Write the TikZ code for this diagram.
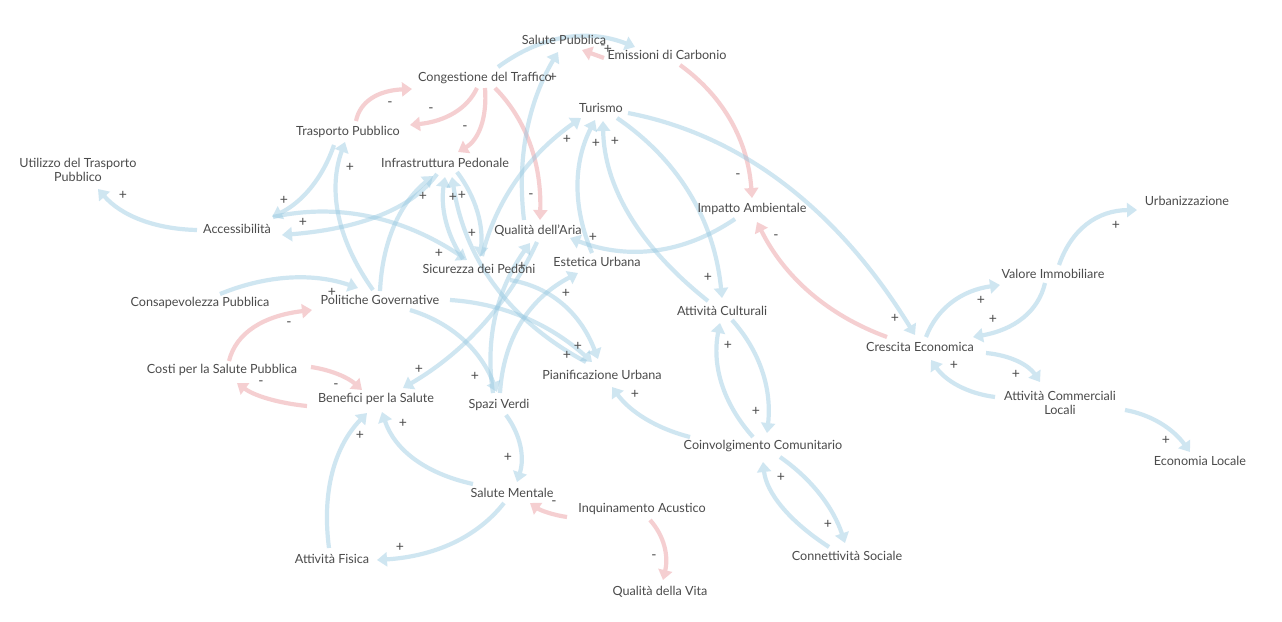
\documentclass[tikz,border=0pt]{standalone}
\usepackage{fontspec}
\setmainfont{Lato}
\usetikzlibrary{arrows.meta,calc,backgrounds}
\definecolor{bl}{RGB}{150,200,225}
\definecolor{rd}{RGB}{235,150,155}
\definecolor{tx}{RGB}{75,75,75}
\tikzset{
 var/.style={text=tx,font=\fontsize{12.6}{14}\selectfont,inner sep=2pt,align=center},
 sg/.style={text=tx,font=\fontsize{14}{14}\selectfont,inner sep=0pt},
 plink/.style={draw=bl,line width=4.2pt,-{Triangle[length=10pt,width=14pt]}},
 nlink/.style={draw=rd,line width=4.2pt,-{Triangle[length=10pt,width=14pt]}},
}
\newcommand\lnk[6]{%
 \begin{scope}[transparency group,opacity=0.45]
 \draw[#1] let \p1=($(#2)+(#3)$), \p2=($(#5)+(#6)$), \p3=(#4) in
   (\p1) .. controls ($(\p3)!-0.3333!(\p2)$) and ($(\p3)!-0.3333!(\p1)$) .. (\p2);
 \end{scope}}
\begin{document}
\begin{tikzpicture}[x=1pt,y=-1pt]
\useasboundingbox (0,0) rectangle (1282,621);
% variables
\node[var] (sp) at (564,40) {Salute Pubblica};
\node[var] (em) at (667,55) {Emissioni di Carbonio};
\node[var] (ct) at (485,78) {Congestione del Traffico};
\node[var] (tu) at (601,108) {Turismo};
\node[var] (tp) at (348,132) {Trasporto Pubblico};
\node[var] (ip) at (445,163) {Infrastruttura Pedonale};
\node[var] (ia) at (752,209) {Impatto Ambientale};
\node[var] (ut) at (78,169.5) {Utilizzo del Trasporto\\Pubblico};
\node[var] (ac) at (237,229) {Accessibilità};
\node[var] (cp) at (200,303) {Consapevolezza Pubblica};
\node[var] (pg) at (380,300) {Politiche Governative};
\node[var] (sd) at (479,269) {Sicurezza dei Pedoni};
\node[var] (qa) at (538,231) {Qualità dell'Aria};
\node[var] (eu) at (597,262) {Estetica Urbana};
\node[var] (pu) at (602,375) {Pianificazione Urbana};
\node[var] (sv) at (499,405) {Spazi Verdi};
\node[var] (cu) at (722,311) {Attività Culturali};
\node[var] (ce) at (920,347) {Crescita Economica};
\node[var] (vi) at (1053,274) {Valore Immobiliare};
\node[var] (ur) at (1187,201) {Urbanizzazione};
\node[var] (cl) at (1060,402.5) {Attività Commerciali\\Locali};
\node[var] (el) at (1200,461) {Economia Locale};
\node[var] (cs) at (222,370) {Costi per la Salute Pubblica};
\node[var] (bs) at (376,399) {Benefici per la Salute};
\node[var] (sm) at (512,493) {Salute Mentale};
\node[var] (af) at (332,559) {Attività Fisica};
\node[var] (cc) at (763,446) {Coinvolgimento Comunitario};
\node[var] (iq) at (642,509) {Inquinamento Acustico};
\node[var] (cn) at (847,556) {Connettività Sociale};
\node[var] (qv) at (660,592) {Qualità della Vita};
% links
\begin{scope}[on background layer]
\fill[white] (0,0) rectangle (1282,621);
\lnk{nlink}{tp}{8,-11}{373,98}{ct}{-73,11}
\lnk{nlink}{ct}{-8,10}{453,113}{tp}{62,-7}
\lnk{nlink}{ct}{0,10}{480,127}{ip}{13,-11}
\lnk{nlink}{ct}{10,10}{530,145}{qa}{2,-11}
\lnk{nlink}{em}{-63,3}{593,54}{sp}{18,10}
\lnk{nlink}{em}{13,10}{731,122}{ia}{0,-11}
\lnk{nlink}{ce}{-33,-10}{810,292}{ia}{5,13}
\lnk{nlink}{cs}{7,-9}{255,327}{pg}{-68,10}
\lnk{nlink}{cs}{89,-3}{339,375}{bs}{-14,-9}
\lnk{nlink}{bs}{-69,7}{267,398}{cs}{15,13}
\lnk{nlink}{iq}{-75,8}{547,512}{sm}{18,10}
\lnk{nlink}{iq}{8,11}{664,547}{qv}{3,-12}
\lnk{plink}{ct}{13,-11}{565,38}{em}{-32,-8}
\lnk{plink}{qa}{-14,-11}{527,132}{sp}{-6,12}
\lnk{plink}{sd}{3,-13}{517,180}{tu}{-20,10}
\lnk{plink}{eu}{-5,-9}{578,185}{tu}{-6,12}
\lnk{plink}{cu}{-14,-10}{630,215}{tu}{2,13}
\lnk{plink}{tu}{16,10}{690,195}{cu}{0,-13}
\lnk{plink}{tu}{27,5}{785,185}{ce}{-5,-12}
\lnk{plink}{ia}{-17,10}{655,250}{qa}{32,7}
\lnk{plink}{pg}{-7,-10}{339,215}{tp}{-3,10}
\lnk{plink}{tp}{-14,13}{310,188}{ac}{35,-12}
\lnk{plink}{ac}{-40,1}{140,219}{ut}{20,19.5}
\lnk{plink}{ip}{-8,11}{380,215}{ac}{45,6}
\lnk{plink}{ac}{36,-12}{370,217}{sd}{-12,-9}
\lnk{plink}{pg}{0,-9}{395,225}{ip}{-12,13}
\lnk{plink}{sd}{-16,-10}{446,220}{ip}{0,14}
\lnk{plink}{pu}{-16,-13}{495,285}{ip}{7,14}
\lnk{plink}{ip}{12,9}{477,212}{sd}{1,-12}
\lnk{plink}{pg}{70,0}{525,318}{pu}{-10,-13}
\lnk{plink}{sd}{31,11}{563,305}{pu}{-4,-16}
\lnk{plink}{pg}{30,10}{463,340}{sv}{-2,-13}
\lnk{plink}{sv}{1,-12}{522,322}{eu}{-19,11}
\lnk{plink}{sv}{-6,-12}{496,315}{qa}{-8,12}
\lnk{plink}{qa}{-1,11}{482,325}{bs}{27,-11}
\lnk{plink}{sv}{7,10}{520,447}{sm}{5,-11}
\lnk{plink}{sm}{-39,-9}{414,458}{bs}{6,13}
\lnk{plink}{sm}{-8,10}{452,543}{af}{45,1}
\lnk{plink}{af}{-3,-11}{333,472}{bs}{-9,14}
\lnk{plink}{cp}{20,-9}{290,278}{pg}{-22,-12}
\lnk{plink}{cc}{-10,-9}{722,383}{cu}{-2,12}
\lnk{plink}{cu}{10,9}{762,372}{cc}{4,-13}
\lnk{plink}{cc}{-73,-9}{645,418}{pu}{10,12}
\lnk{plink}{cc}{17,11}{820,495}{cn}{-2,-13}
\lnk{plink}{cn}{-18,-9}{782,506}{cc}{0,16}
\lnk{plink}{ce}{6,-10}{953,302}{vi}{-53,11}
\lnk{plink}{vi}{-8,9}{1022,318}{ce}{53,-10}
\lnk{plink}{vi}{6,-9}{1088,224}{ur}{-50,9}
\lnk{plink}{ce}{66,6}{1018,362}{cl}{-20,-20.5}
\lnk{plink}{cl}{-65,-5.5}{958,385}{ce}{11,13}
\lnk{plink}{cl}{65,7.5}{1161,424}{el}{-10,-9}
\end{scope}
% polarity labels
\node[sg] (s1) at (390,104) {-};
\node[sg] (s2) at (431,110) {-};
\node[sg] (s3) at (465,128) {-};
\node[sg] (s4) at (531,196) {-};
\node[sg] (s5) at (603,47) {-};
\node[sg] (s6) at (738,176) {-};
\node[sg] (s7) at (776,237) {-};
\node[sg] (s8) at (289,324) {-};
\node[sg] (s9) at (336,386) {-};
\node[sg] (s10) at (261,383) {-};
\node[sg] (s11) at (554,503) {-};
\node[sg] (s12) at (654,557) {-};
\node[sg] (s13) at (608,49) {+};
\node[sg] (s14) at (553,77) {+};
\node[sg] (s15) at (567,139) {+};
\node[sg] (s16) at (596,143) {+};
\node[sg] (s17) at (615,141) {+};
\node[sg] (s18) at (708,277) {+};
\node[sg] (s19) at (895,318) {+};
\node[sg] (s20) at (593,237) {+};
\node[sg] (s21) at (350,167) {+};
\node[sg] (s22) at (284,200) {+};
\node[sg] (s23) at (123,195) {+};
\node[sg] (s24) at (303,222) {+};
\node[sg] (s25) at (439,253) {+};
\node[sg] (s26) at (423,196) {+};
\node[sg] (s27) at (453,197) {+};
\node[sg] (s28) at (462,195) {+};
\node[sg] (s29) at (472,233) {+};
\node[sg] (s30) at (567,355) {+};
\node[sg] (s31) at (578,346) {+};
\node[sg] (s32) at (475,376) {+};
\node[sg] (s33) at (566,293) {+};
\node[sg] (s34) at (522,266) {+};
\node[sg] (s35) at (419,369) {+};
\node[sg] (s36) at (508,457) {+};
\node[sg] (s37) at (403,423) {+};
\node[sg] (s38) at (400,547) {+};
\node[sg] (s39) at (360,435) {+};
\node[sg] (s40) at (332,292) {+};
\node[sg] (s41) at (728,345) {+};
\node[sg] (s42) at (756,411) {+};
\node[sg] (s43) at (635,394) {+};
\node[sg] (s44) at (828,524) {+};
\node[sg] (s45) at (781,477) {+};
\node[sg] (s46) at (981,300) {+};
\node[sg] (s47) at (993,319) {+};
\node[sg] (s48) at (1116,225) {+};
\node[sg] (s49) at (1016,374) {+};
\node[sg] (s50) at (954,365) {+};
\node[sg] (s51) at (1166,440) {+};
\end{tikzpicture}
\end{document}
